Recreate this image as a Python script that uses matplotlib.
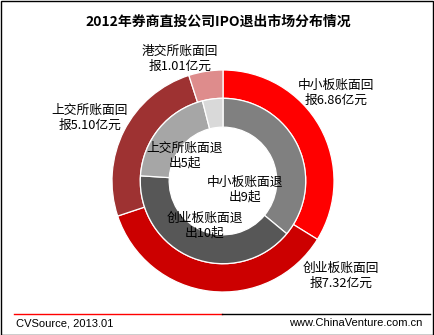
import matplotlib
matplotlib.use("Agg")
import matplotlib.pyplot as plt
from matplotlib.lines import Line2D
from matplotlib.patches import Rectangle

plt.rcParams['font.family'] = ['Noto Sans CJK SC', 'DejaVu Sans']

title = "2012年券商直投公司IPO退出市场分布情况"
markets = ["中小板", "创业板", "上交所", "港交所"]
returns_bn = [6.86, 7.32, 5.10, 1.01]        # 账面回报（亿元）
exit_counts = [9, 10, 5, 1]                  # 账面退出（起）
outer_colors = ["#FF0000", "#CC0000", "#9E3232", "#DE8C8C"]
inner_colors = ["#808080", "#575757", "#A6A6A6", "#D9D9D9"]
source_text = "CVSource, 2013.01"
site_text = "www.ChinaVenture.com.cn"

W, H = 434, 335
fig = plt.figure(figsize=(W / 100, H / 100), dpi=100)

# pie axes: centre (223, 181) px from top-left, radius 111 px
cx, cy, R = 223, 181, 111
ax = fig.add_axes([(cx - R) / W, (H - cy - R) / H, 2 * R / W, 2 * R / H])

ring_w = 0.255
wp = dict(edgecolor="white", linewidth=0.9)
ax.pie(returns_bn, radius=1.0, colors=outer_colors, startangle=90,
       counterclock=False, wedgeprops=dict(width=ring_w, **wp))
ax.pie(exit_counts, radius=1.0 - ring_w, colors=inner_colors, startangle=90,
       counterclock=False, wedgeprops=dict(width=0.26, **wp))
ax.set_xlim(-1, 1)
ax.set_ylim(-1, 1)
ax.set_aspect('equal')
ax.axis('off')

def px(x, y):
    return (x - cx) / R, (cy - y) / R

lab_kw = dict(ha="center", va="center", fontsize=9.2, linespacing=1.2,
              color="black", clip_on=False)

outer_pos = [(336, 93), (341, 276), (90, 118), (180, 59)]
for name, val, (x, y) in zip(markets, returns_bn, outer_pos):
    ax.text(*px(x, y), f"{name}账面回\n报{val:.2f}亿元", **lab_kw)

inner_pos = [(245, 190), (205, 226), (185, 156)]
for name, val, (x, y) in zip(markets[:3], exit_counts[:3], inner_pos):
    ax.text(*px(x, y), f"{name}账面退\n出{val}起", **lab_kw)

fig.text(218 / W, 1 - 22 / H, title, ha="center", va="center",
         fontsize=10, fontweight="bold")

# footer rule and captions
y_rule = 1 - 314 / H
fig.add_artist(Line2D([14 / W, 222 / W], [y_rule, y_rule], color="#FF0000",
                      linewidth=1.0, transform=fig.transFigure))
fig.add_artist(Line2D([222 / W, 430 / W], [y_rule, y_rule], color="black",
                      linewidth=1.0, transform=fig.transFigure))
fig.text(16 / W, 1 - 323 / H, source_text, ha="left", va="center",
         fontsize=8, family="Liberation Sans")
fig.text(422 / W, 1 - 323 / H, site_text, ha="right", va="center",
         fontsize=8, family="Liberation Sans")

# outer frame
fig.add_artist(Rectangle((0.5 / W, 0.5 / H), 1 - 1.5 / W, 1 - 1.5 / H,
                         fill=False, edgecolor="black", linewidth=1.0,
                         transform=fig.transFigure))

fig.savefig("out.png", dpi=100)
